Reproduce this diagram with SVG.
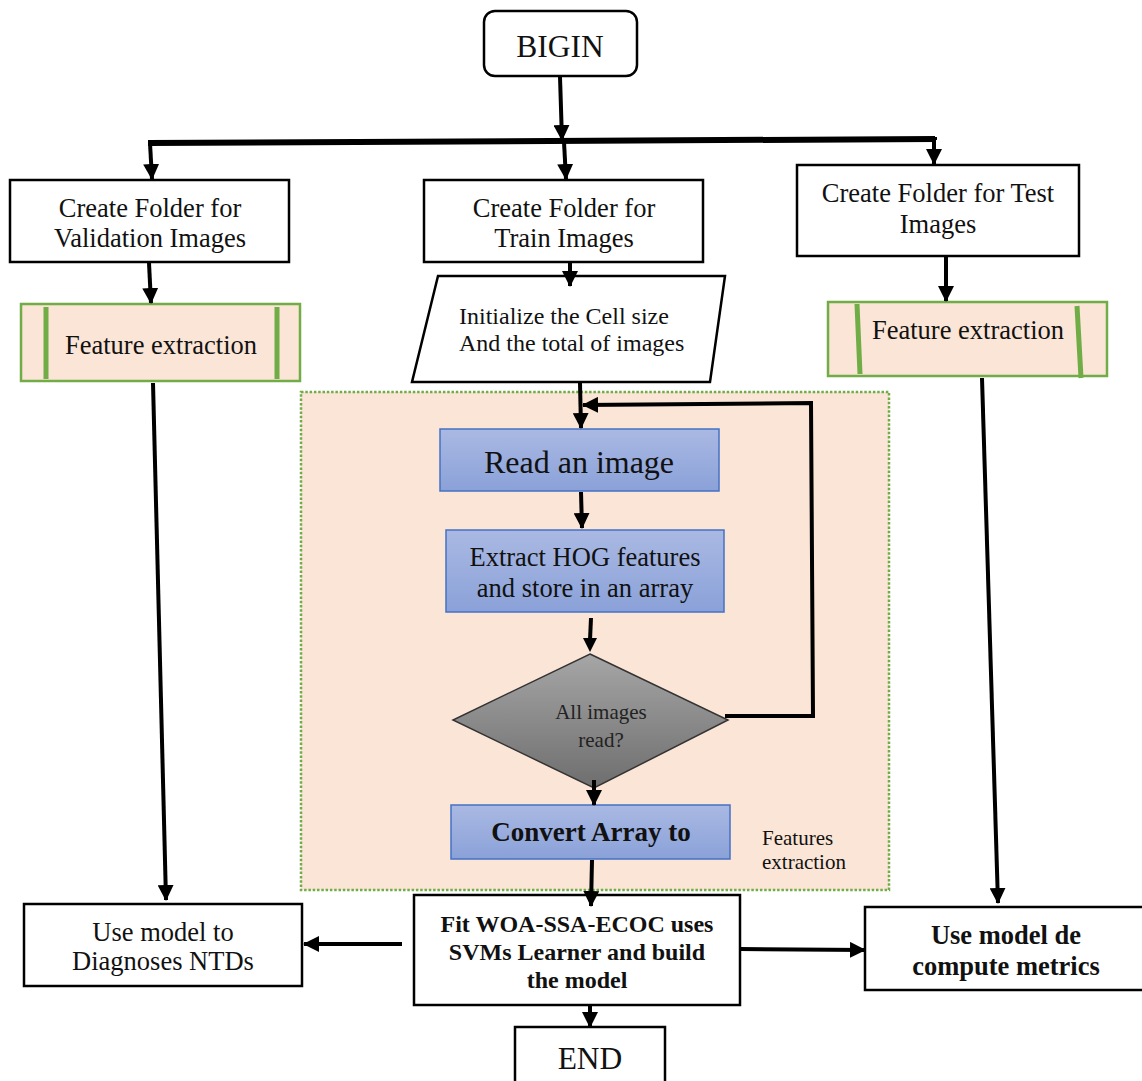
<svg xmlns="http://www.w3.org/2000/svg" width="1142" height="1081" viewBox="0 0 1142 1081">
<style>
text{font-family:"Liberation Serif","Times New Roman",serif;fill:#111;text-anchor:middle}
.box{fill:#fff;stroke:#000;stroke-width:2.5}
.fe{fill:#FBE5D6;stroke:#70AD47;stroke-width:2.5}
.bar{stroke:#70AD47;stroke-width:5}
.blue{fill:url(#gb);stroke:#4472C4;stroke-width:1.5}
.c{fill:none;stroke:#000;stroke-width:4}
.t{font-size:26.5px}
.b{font-weight:bold}
</style>
<defs>
<linearGradient id="gb" x1="0" y1="0" x2="0" y2="1"><stop offset="0" stop-color="#AAB9E3"/><stop offset="1" stop-color="#8AA1D8"/></linearGradient>
<linearGradient id="gg" x1="0" y1="0" x2="0" y2="1"><stop offset="0" stop-color="#A6A6A6"/><stop offset="1" stop-color="#6E6E6E"/></linearGradient>
<marker id="ah" markerUnits="userSpaceOnUse" markerWidth="16" markerHeight="16" viewBox="0 0 16 16" refX="15" refY="8" orient="auto"><path d="M0,0 L16,8 L0,16 z" fill="#000"/></marker>
</defs>
<g id="region"><rect x="301" y="392" width="588" height="498" fill="#FBE5D6" stroke="#70AD47" stroke-width="2.5" stroke-dasharray="2.5,1.8"/>
<text x="762" y="845" style="text-anchor:start;font-size:21px">Features</text><text x="762" y="869" style="text-anchor:start;font-size:21px">extraction</text></g>
<g id="begin"><rect class="box" x="484" y="11" width="153" height="65" rx="11"/><text x="560" y="57" style="font-size:31.5px">BIGIN</text></g>
<g id="val"><rect class="box" x="10" y="180" width="279" height="82"/><text class="t" x="150" y="217">Create Folder for</text><text class="t" x="150" y="247">Validation Images</text></g>
<g id="train"><rect class="box" x="424" y="180" width="279" height="82"/><text class="t" x="564" y="217">Create Folder for</text><text class="t" x="564" y="247">Train Images</text></g>
<g id="test"><rect class="box" x="797" y="165" width="282" height="91"/><text class="t" x="938" y="202">Create Folder for Test</text><text class="t" x="938" y="233">Images</text></g>
<g id="fe-left"><rect class="fe" x="21" y="304" width="279" height="77"/><path class="bar" d="M46,307 L46,379 M277,307 L277,379"/><text class="t" x="161" y="354">Feature extraction</text></g>
<g id="fe-right"><rect class="fe" x="828" y="302" width="279" height="74"/><path class="bar" d="M857,304 L860,374 M1077,306 L1081,378"/><text class="t" x="968" y="339">Feature extraction</text></g>
<g id="init"><polygon points="438,276 725,276 710,382 412,382" fill="#fff" stroke="#000" stroke-width="2.5"/><text x="459" y="324" style="text-anchor:start;font-size:24px">Initialize the Cell size</text><text x="459" y="351" style="text-anchor:start;font-size:24px">And the total of images</text></g>
<g id="read"><rect class="blue" x="440" y="429" width="279" height="62"/><text x="579" y="473" style="font-size:32px">Read an image</text></g>
<g id="hog"><rect class="blue" x="446" y="530" width="278" height="82"/><text class="t" x="585" y="566">Extract HOG features</text><text class="t" x="585" y="597">and store in an array</text></g>
<g id="decision"><polygon points="590,654 728,720 594,788 453,720" fill="url(#gg)" stroke="#333" stroke-width="1.5"/><text x="601" y="719" style="font-size:21px;fill:#222">All images</text><text x="601" y="747" style="font-size:21px;fill:#222">read?</text></g>
<g id="convert"><rect class="blue" x="451" y="805" width="279" height="54"/><text class="b" x="591" y="841" style="font-size:27px">Convert Array to</text></g>
<g id="fit"><rect class="box" x="414" y="895" width="326" height="110"/><text class="b" x="577" y="932" style="font-size:24px">Fit WOA-SSA-ECOC uses</text><text class="b" x="577" y="960" style="font-size:24px">SVMs Learner and build</text><text class="b" x="577" y="988" style="font-size:24px">the model</text></g>
<g id="diag"><rect class="box" x="24" y="904" width="278" height="82"/><text class="t" x="163" y="941">Use model to</text><text class="t" x="163" y="970">Diagnoses NTDs</text></g>
<g id="metrics"><rect class="box" x="865" y="907" width="285" height="83"/><text class="t b" x="1006" y="944">Use model de</text><text class="t b" x="1006" y="975">compute metrics</text></g>
<g id="end"><rect class="box" x="515" y="1027" width="150" height="70"/><text x="590" y="1069" style="font-size:31.5px">END</text></g>
<g id="connectors">
<path class="c" d="M560,77 L562,140" marker-end="url(#ah)"/>
<path d="M148,143 L935,139" stroke="#000" stroke-width="6" fill="none"/>
<path class="c" stroke-width="3" d="M935,137 L935,140"/>
<path class="c" stroke-width="3" d="M150,143 L152,179" marker-end="url(#ah)"/>
<path class="c" stroke-width="3" d="M564,142 L566,179" marker-end="url(#ah)"/>
<path class="c" stroke-width="3" d="M934,140 L934,164" marker-end="url(#ah)"/>
<path class="c" stroke-width="3.5" d="M149,263 L151,303" marker-end="url(#ah)"/>
<path class="c" stroke-width="3.5" d="M570,263 L570,286" marker-end="url(#ah)"/>
<path class="c" stroke-width="3.5" d="M946,257 L946,301" marker-end="url(#ah)"/>
<path class="c" stroke-width="3" d="M153,383 L166,900" marker-end="url(#ah)"/>
<path class="c" stroke-width="3" d="M982,378 L998,903" marker-end="url(#ah)"/>
<path class="c" stroke-width="3.5" d="M580,383 L581,428" marker-end="url(#ah)"/>
<path class="c" stroke-width="3.5" d="M725,716 L813,716 L811,403 L583,405" marker-end="url(#ah)"/>
<path class="c" stroke-width="3.5" d="M581,492 L582,528" marker-end="url(#ah)"/>
<path class="c" stroke-width="1.2" d="M591,618 L590,640"/>
<path d="M583,638 L597,638 L590,652 z" fill="#000"/>
<path class="c" stroke-width="3.5" d="M594,780 L594,805" marker-end="url(#ah)"/>
<path class="c" stroke-width="3.5" d="M592,860 L591,906" marker-end="url(#ah)"/>
<path class="c" stroke-width="3.5" d="M402,944 L304,944" marker-end="url(#ah)"/>
<path class="c" stroke-width="3" d="M740,949 L865,950" marker-end="url(#ah)"/>
<path class="c" stroke-width="3.5" d="M590,1006 L590,1027" marker-end="url(#ah)"/>
</g>
</svg>
